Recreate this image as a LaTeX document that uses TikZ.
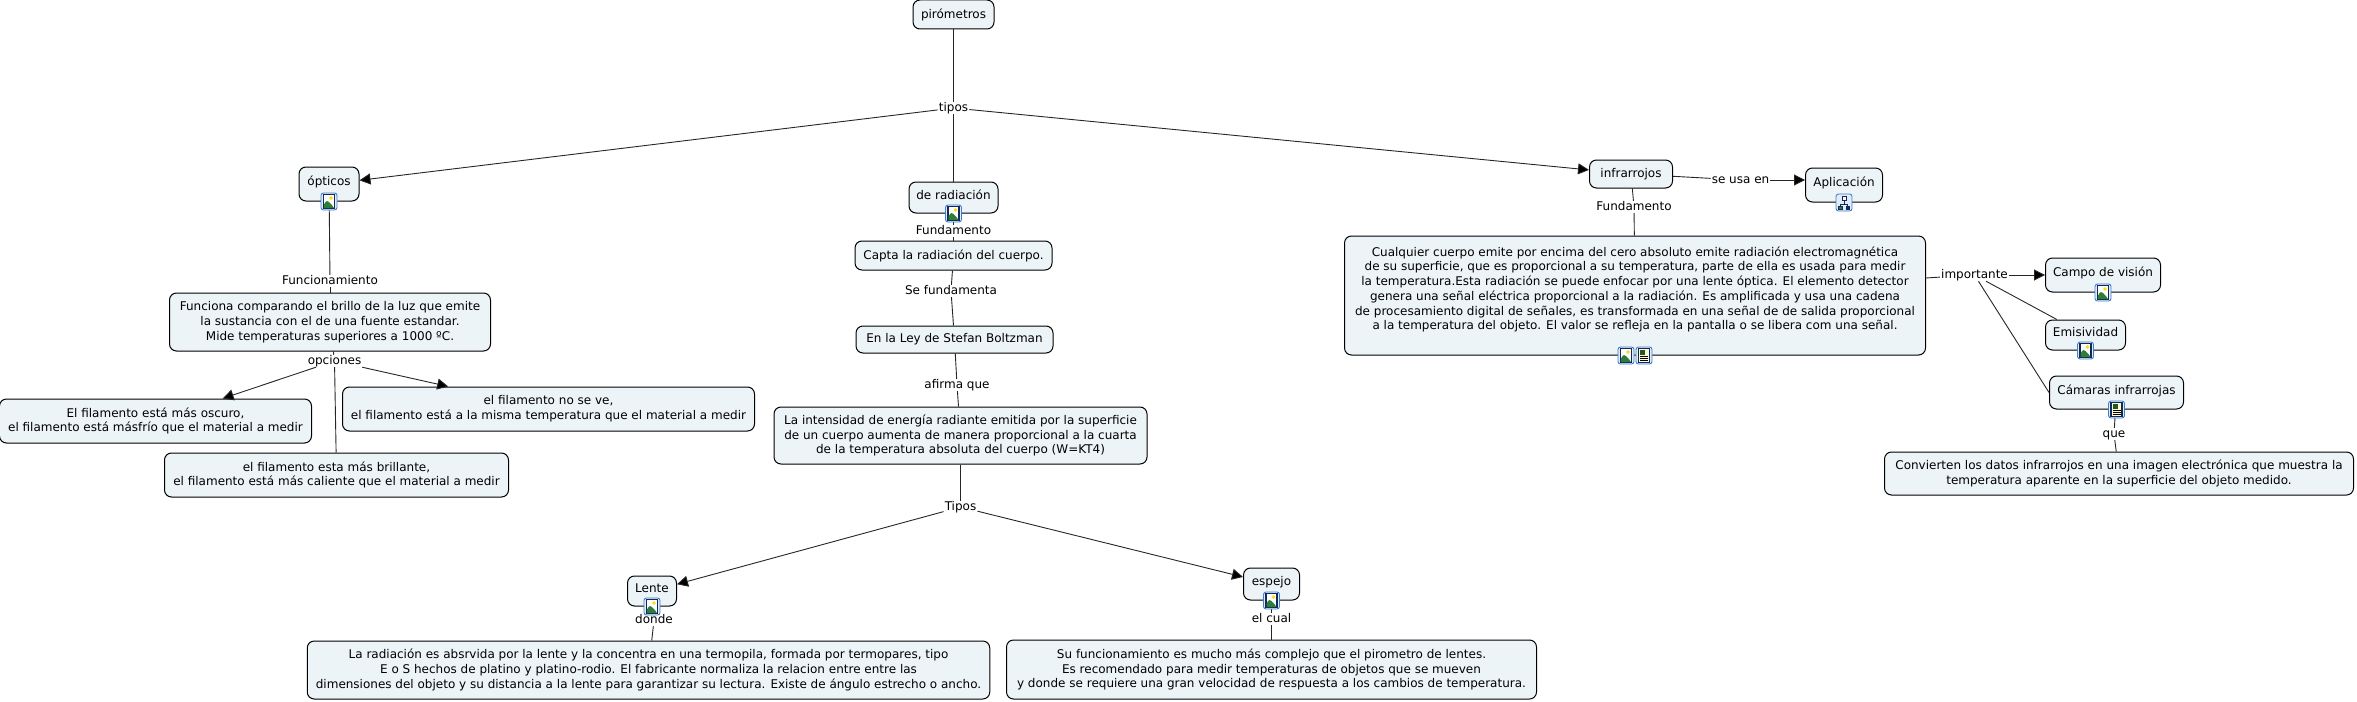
\documentclass[tikz,border=0pt]{standalone}
\usepackage{fontspec}
\setmainfont{DejaVu Sans}
\usepackage{xcolor}
\usetikzlibrary{positioning, arrows.meta}
\definecolor{fondo}{HTML}{EDF4F7}
\definecolor{azulmarco}{HTML}{3F7FD0}
\definecolor{azuloscuro}{HTML}{14285A}
\definecolor{verdemonte}{HTML}{2E7D3A}
\tikzset{
  concepto/.style={draw=black, fill=fondo, rounded corners=7pt, line width=1pt, inner sep=0pt, align=center},
  enlace/.style={inner xsep=1pt, inner ysep=0pt, text height=9pt, text depth=3pt},
  conicono/.style={text depth=6pt},
  linea/.style={draw=black!85, line width=0.9pt},
  flecha/.style={linea, -{Triangle[length=11pt,width=11pt]}},
  marcoicono/.style={draw=azulmarco, fill=azulmarco!15, rounded corners=2.5pt, line width=0.9pt},
  imagen/.pic={
    \draw[marcoicono] (-8,-8.5) rectangle (8,8.5);
    \draw[draw=azuloscuro, fill=white, line width=1.1pt] (-5.5,-7) rectangle (5.5,7);
    \fill[verdemonte] (-5,-6.5) -- (-5,-3) .. controls (-3,1) and (-1,1.5) .. (0,-0.5) .. controls (2,-3) and (4,-4) .. (5,-6.5) -- cycle;
    \fill[yellow!80!orange] (2,3.5) circle (1.8);
  },
  notas/.pic={
    \draw[marcoicono] (-8,-8.5) rectangle (8,8.5);
    \draw[draw=azuloscuro, fill=yellow!20, line width=1.1pt] (-5.5,-7) rectangle (5.5,7);
    \foreach \ylin in {-5,-3,-1} {\draw[black, line width=0.8pt] (-4,\ylin) -- (4,\ylin);}
    \fill[verdemonte!70!black] (-4,1) rectangle (1,5.5);
  },
  mapa/.pic={
    \draw[marcoicono] (-8,-8.5) rectangle (8,8.5);
    \draw[azuloscuro, line width=0.8pt] (0,5) -- (0,-1.5) (-3.5,-4) -- (-3.5,-1.5) -- (3.5,-1.5) -- (3.5,-4);
    \draw[azuloscuro, fill=white, line width=0.8pt] (-2,2.5) rectangle (2,6.5);
    \draw[azuloscuro, fill=verdemonte, line width=0.8pt] (-5.5,-6.5) rectangle (-2,-3.5);
    \draw[azuloscuro, fill=azuloscuro, line width=0.8pt] (2,-6.5) rectangle (5.5,-3.5);
  }
}
\begin{document}
\begin{tikzpicture}[x=1pt, y=1pt, on grid, font=\fontsize{12}{14.7}\selectfont]
   \useasboundingbox (0,0) rectangle (2357,-701);
   % raiz y tipos
   \node[concepto, minimum width=81pt, minimum height=29pt] (pirometros) at (953.5,-14.5) {pirómetros};
   \node[enlace] (tipos) [below=93.5pt of pirometros] {tipos};

   % rama central
   \node[concepto, conicono, minimum width=89pt, minimum height=31pt] (radiacion) [below=89.5pt of tipos] {de radiación};
   \node[enlace] (fund_rad) [below=33.5pt of radiacion] {Fundamento};
   \node[concepto, minimum width=197pt, minimum height=29pt] (capta) [below=24.5pt of fund_rad] {Capta la radiación del cuerpo.};
   \node[enlace] (se_fund) [below left=35.5pt and 2.5pt of capta] {Se fundamenta};
   \node[concepto, minimum width=197pt, minimum height=27pt] (ley) [below right=48.5pt and 3.5pt of se_fund] {En la Ley de Stefan Boltzman};
   \node[enlace] (afirma) [below right=45.5pt and 2.5pt of ley] {afirma que};
   \node[concepto, minimum width=373pt, minimum height=57pt] (intensidad) [below right=50.5pt and 3.5pt of afirma] {La intensidad de energía radiante emitida por la superficie\\de un cuerpo aumenta de manera proporcional a la cuarta\\de la temperatura absoluta del cuerpo (W=KT4)};
   \node[enlace] (tipos_b) [below=71.5pt of intensidad] {Tipos};
   \node[concepto, conicono, minimum width=49pt, minimum height=30pt] (lente) [below left=84pt and 308.5pt of tipos_b] {Lente};
   \node[concepto, conicono, minimum width=56pt, minimum height=32pt] (espejo) [below right=77pt and 311pt of tipos_b] {espejo};
   \node[enlace] (donde) [below right=29pt and 2pt of lente] {donde};
   \node[enlace] (cual) [below=35pt of espejo] {el cual};
   \node[concepto, minimum width=682.5pt, minimum height=58pt] (lente_txt) [below left=50pt and 5.5pt of donde] {La radiación es absrvida por la lente y la concentra en una termopila, formada por termopares, tipo\\E o S hechos de platino y platino-rodio. El fabricante normaliza la relacion entre entre las\\dimensiones del objeto y su distancia a la lente para garantizar su lectura. Existe de ángulo estrecho o ancho.};
   \node[concepto, minimum width=530pt, minimum height=59pt] (espejo_txt) [below=50.5pt of cual] {Su funcionamiento es mucho más complejo que el pirometro de lentes.\\Es recomendado para medir temperaturas de objetos que se mueven\\y donde se requiere una gran velocidad de respuesta a los cambios de temperatura.};

   % rama izquierda
   \node[concepto, conicono, minimum width=60pt, minimum height=34pt] (opticos) [below left=76pt and 624.5pt of tipos] {ópticos};
   \node[enlace] (funcionamiento) [below right=97pt and 1pt of opticos] {Funcionamiento};
   \node[concepto, minimum width=321pt, minimum height=58pt] (funciona) [below=41pt of funcionamiento] {Funciona comparando el brillo de la luz que emite\\la sustancia con el de una fuente estandar.\\Mide temperaturas superiores a 1000 ºC.};
   \node[enlace] (opciones) [below right=39pt and 4.5pt of funciona] {opciones};
   \node[concepto, minimum width=312pt, minimum height=44pt] (oscuro) [below left=60pt and 179pt of opciones] {El filamento está más oscuro,\\el filamento está másfrío que el material a medir};
   \node[concepto, minimum width=412pt, minimum height=44pt] (no_ve) [below right=48pt and 214pt of opciones] {el filamento no se ve,\\el filamento está a la misma temperatura que el material a medir};
   \node[concepto, minimum width=344pt, minimum height=44pt] (brillante) [below right=114pt and 2pt of opciones] {el filamento esta más brillante,\\el filamento está más caliente que el material a medir};

   % rama derecha
   \node[concepto, minimum width=83pt, minimum height=28pt] (infrarrojos) [below right=66pt and 677.5pt of tipos] {infrarrojos};
   \node[enlace] (se_usa) [below right=6pt and 109.5pt of infrarrojos] {se usa en};
   \node[concepto, conicono, minimum width=77pt, minimum height=34pt] (aplicacion) [below right=5pt and 103.5pt of se_usa] {Aplicación};
   \node[enlace] (fund_ir) [below right=33pt and 3pt of infrarrojos] {Fundamento};
   \node[concepto, minimum width=581pt, minimum height=119pt] (cualquier) [below right=88.5pt and 1pt of fund_ir] {Cualquier cuerpo emite por encima del cero absoluto emite radiación electromagnética\\de su superficie, que es proporcional a su temperatura, parte de ella es usada para medir\\la temperatura.Esta radiación se puede enfocar por una lente óptica. El elemento detector\\genera una señal eléctrica proporcional a la radiación. Es amplificada y usa una cadena\\de procesamiento digital de señales, es transformada en una señal de de salida proporcional\\a la temperatura del objeto. El valor se refleja en la pantalla o se libera com una señal.\\~};
   \node[enlace] (importante) [above right=20.5pt and 339.5pt of cualquier] {importante};
   \node[concepto, conicono, minimum width=115pt, minimum height=34pt] (campo) [right=128.5pt of importante] {Campo de visión};
   \node[concepto, conicono, minimum width=80pt, minimum height=30pt] (emisividad) [below right=60pt and 111pt of importante] {Emisividad};
   \node[concepto, conicono, minimum width=134pt, minimum height=33pt] (camaras) [below right=117.5pt and 142pt of importante] {Cámaras infrarrojas};
   \node[enlace] (que) [below left=41.5pt and 2.5pt of camaras] {que};
   \node[concepto, minimum width=469pt, minimum height=43pt] (convierten) [below right=39.5pt and 5pt of que] {Convierten los datos infrarrojos en una imagen electrónica que muestra la\\temperatura aparente en la superficie del objeto medido.};

   \path[linea]
    % rama central
    (pirometros) edge (tipos)
    (tipos) edge (radiacion)
    (radiacion) edge (fund_rad)
    (fund_rad) edge (capta)
    (capta) edge (se_fund)
    (se_fund) edge (ley)
    (ley) edge (afirma)
    (afirma) edge (intensidad)
    (intensidad) edge (tipos_b)
    (lente) edge (donde)
    (donde) edge (lente_txt)
    (espejo) edge (cual)
    (cual) edge (espejo_txt)
    % rama izquierda
    (opticos) edge (funcionamiento)
    (funcionamiento) edge (funciona)
    (funciona) edge (opciones)
    (opciones) edge (brillante)
    % rama derecha
    (infrarrojos) edge (se_usa)
    (infrarrojos) edge (fund_ir)
    (fund_ir) edge (cualquier)
    (cualquier) edge (importante)
    (importante) edge (emisividad)
    (importante) edge (camaras.west)
    (camaras) edge (que)
    (que) edge (convierten)
    ;
   \path[flecha]
    (tipos) edge (opticos)
    (tipos) edge (infrarrojos)
    (tipos_b) edge (lente)
    (tipos_b) edge (espejo)
    (opciones) edge (oscuro)
    (opciones) edge (no_ve)
    (se_usa) edge (se_usa -| aplicacion.west)
    (importante) edge (campo)
    ;

   % iconos
   \path (opticos.south) pic {imagen};
   \path (radiacion.south) pic {imagen};
   \path (lente.south) pic {imagen};
   \path (espejo.south) pic {imagen};
   \path (campo.south) pic {imagen};
   \path (emisividad.south) pic {imagen};
   \path (camaras.south) pic {notas};
   \path (aplicacion.south) pic {mapa};
   \path (cualquier.south) ++(-9,0) pic {imagen};
   \path (cualquier.south) ++(9,0) pic {notas};
\end{tikzpicture}
\end{document}
